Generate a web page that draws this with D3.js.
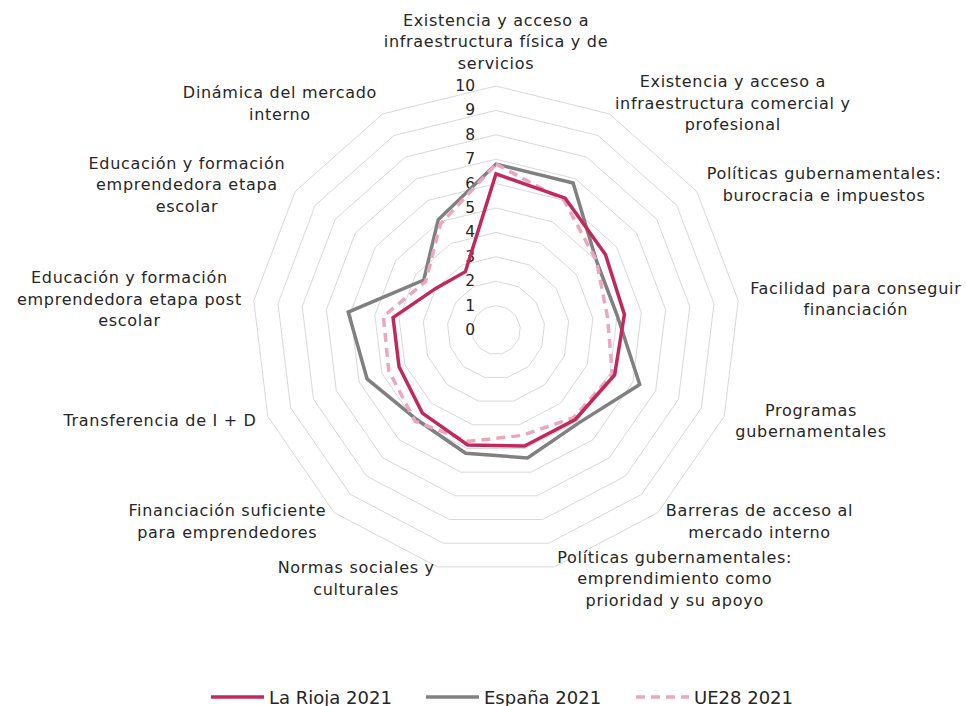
<!DOCTYPE html>
<html>
<head>
<meta charset="utf-8">
<script src="https://cdn.jsdelivr.net/npm/d3@7"></script>
<style>
  body { margin: 0; background: #fff; }
  svg { display: block; font-family: "DejaVu Sans", sans-serif; }
</style>
</head>
<body>
<script>
const width = 966, height = 706
const cx = 496, cy = 330, R = 244

// axis labels, one entry per line
const categories = [
    ["Existencia y acceso a", "infraestructura física y de", "servicios"],
    ["Existencia y acceso a", "infraestructura comercial y", "profesional"],
    ["Políticas gubernamentales:", "burocracia e impuestos"],
    ["Facilidad para conseguir", "financiación"],
    ["Programas", "gubernamentales"],
    ["Barreras de acceso al", "mercado interno"],
    ["Políticas gubernamentales:", "emprendimiento como", "prioridad y su apoyo"],
    ["Normas sociales y", "culturales"],
    ["Financiación suficiente", "para emprendedores"],
    ["Transferencia de I + D"],
    ["Educación y formación", "emprendedora etapa post", "escolar"],
    ["Educación y formación", "emprendedora etapa", "escolar"],
    ["Dinámica del mercado", "interno"]
]

const laRioja = [6.4, 6.1, 5.45, 5.3, 5.2, 4.9, 4.9, 4.85, 4.55, 4.25, 4.25, 3.0, 2.7]
const espana  = [6.8, 6.8, 5.0, 5.0, 6.3, 5.1, 5.4, 5.2, 4.9, 5.65, 6.1, 3.6, 5.1]
const ue28    = [6.8, 6.0, 5.0, 4.6, 5.1, 4.8, 4.45, 4.7, 5.0, 4.7, 4.65, 3.5, 4.9]

const ticks = [0, 1, 2, 3, 4, 5, 6, 7, 8, 9, 10]

const seriesNames = ["La Rioja 2021", "España 2021", "UE28 2021"]

const n = categories.length
const angle = i => i * 2 * Math.PI / n

const rScale = d3.scaleLinear().domain([0, 10]).range([0, R])

const svg = d3.select("body").append("svg")
    .attr("width", width)
    .attr("height", height)

const g = svg.append("g").attr("transform", "translate(" + cx + "," + cy + ")")

// grid rings
const ringLine = d3.lineRadial()
    .curve(d3.curveLinearClosed)
    .angle((d, i) => angle(i))
    .radius(d => rScale(d))

g.selectAll(".ring")
    .data(ticks.filter(t => t > 0))
    .enter()
    .append("path")
    .attr("d", t => ringLine(d3.range(n).map(() => t)))
    .attr("fill", "none")
    .attr("stroke", "#d9d9d9")
    .attr("stroke-width", 1)

// tick labels
g.selectAll(".tick")
    .data(ticks)
    .enter()
    .append("text")
    .attr("x", -21)
    .attr("y", t => -rScale(t))
    .attr("text-anchor", "end")
    .attr("dominant-baseline", "central")
    .style("font-size", "15.5px")
    .style("fill", "#262626")
    .text(t => t)

// series
const series = [
    { name: seriesNames[0], values: laRioja, color: "#c2295b", dash: null },
    { name: seriesNames[1], values: espana, color: "#808080", dash: null },
    { name: seriesNames[2], values: ue28, color: "#eba8bd", dash: "9,6" }
]

// draw order: España, UE28, La Rioja on top
;[series[1], series[2], series[0]].forEach(s => {
    g.append("path")
        .attr("d", ringLine(s.values))
        .attr("fill", "none")
        .attr("stroke", s.color)
        .attr("stroke-width", 3.5)
        .attr("stroke-linejoin", "miter")
        .attr("stroke-dasharray", s.dash)
})

// axis labels
const lineH = 21.5
categories.forEach((lines, i) => {
    const a = angle(i)
    const dx = Math.sin(a), dy = -Math.cos(a)
    const px = dx * (R + 12), py = dy * (R + 12)
    const lab = g.append("g")
    const texts = lines.map((l, k) => lab.append("text")
        .attr("text-anchor", "middle")
        .attr("dominant-baseline", "central")
        .style("font-size", "16px")
        .style("letter-spacing", "0.7px")
        .style("fill", "#262626")
        .text(l))
    const w = d3.max(texts, t => t.node().getComputedTextLength())
    let mx = px
    if (dx > 0.01) mx = px + w / 2
    else if (dx < -0.01) mx = px - w / 2
    let top
    if (i === 0) top = py - lines.length * lineH
    else top = py - lines.length * lineH / 2
    texts.forEach((t, k) => t.attr("x", mx).attr("y", top + lineH * (k + 0.5)))
})

// legend
const legend = svg.append("g").attr("transform", "translate(0,697)")
const legX = [211, 426, 636]
series.forEach((s, i) => {
    legend.append("line")
        .attr("x1", legX[i]).attr("x2", legX[i] + 53)
        .attr("y1", 0).attr("y2", 0)
        .attr("stroke", s.color)
        .attr("stroke-width", 3.5)
        .attr("stroke-dasharray", s.dash)
    legend.append("text")
        .attr("x", legX[i] + 58)
        .attr("y", 0)
        .attr("dominant-baseline", "central")
        .style("font-size", "18px")
        .style("fill", "#262626")
        .text(s.name)
})
</script>
</body>
</html>
